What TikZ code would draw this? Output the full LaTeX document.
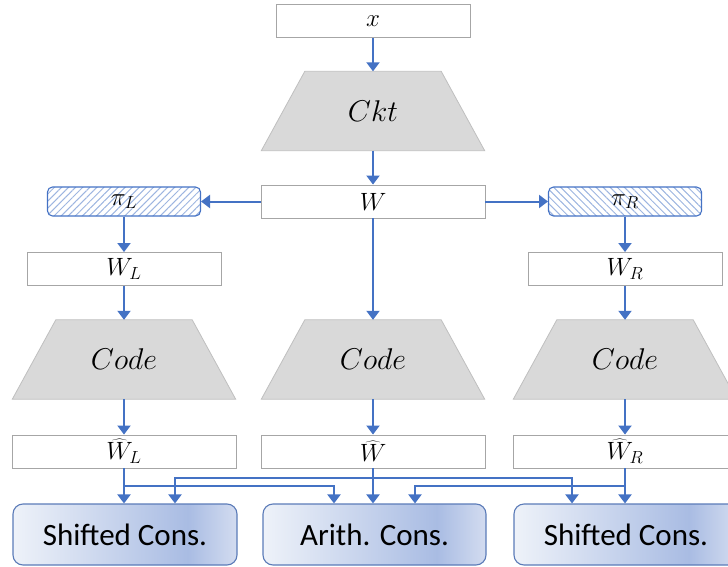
\RequirePackage{fix-cm}
\documentclass[tikz,border=0pt]{standalone}
\usepackage{fontspec}
\newfontfamily\calibri{Carlito}
\usetikzlibrary{arrows.meta,patterns.meta,backgrounds}
\definecolor{arrblue}{HTML}{4472C4}
\definecolor{boxgray}{HTML}{A6A6A6}
\definecolor{trapfill}{HTML}{D9D9D9}
\definecolor{trapline}{HTML}{BFBFBF}
\definecolor{hatch}{HTML}{9DB5E0}
\definecolor{consline}{HTML}{5B7BB8}
\definecolor{consA}{HTML}{EEF2F9}
\definecolor{consB}{HTML}{A9BCE3}
\definecolor{consC}{HTML}{D3DCF0}
\pgfdeclarehorizontalshading{consshade}{100bp}{color(0bp)=(consA); color(25bp)=(consA); color(64bp)=(consB); color(75bp)=(consC); color(100bp)=(consC)}
\tikzset{
  wbox/.style={draw=boxgray, line width=0.9pt, fill=white, minimum width=194pt, minimum height=33pt, inner sep=0pt, font=\fontsize{25}{28}\selectfont},
  widebox/.style={wbox, minimum width=224pt},
  pibox/.style={draw=arrblue, line width=1.1pt, rounded corners=5pt, minimum width=153pt, minimum height=29pt, inner sep=0pt, font=\fontsize{25}{28}\selectfont},
  traplabel/.style={minimum width=136pt, minimum height=79pt, inner sep=0pt, font=\fontsize{30}{34}\selectfont},
  trapshape/.style={fill=trapfill, draw=trapline, line width=0.8pt},
  consbox/.style={draw=consline, line width=1.1pt, rounded corners=10pt, shading=consshade, minimum width=224pt, minimum height=61pt, inner sep=0pt, font=\calibri\fontsize{31}{36}\selectfont},
  arr/.style={draw=arrblue, line width=2pt, -{Triangle[width=13pt,length=9pt]}}
}
\begin{document}
\begin{tikzpicture}[x=1pt,y=-1pt]
\useasboundingbox (0,0) rectangle (728,567);
\clip (0,0) rectangle (728,567);
% top chain
\node[wbox] (xb) at (373,21) {$x$};
\node[traplabel] (ckt) at (373,111) {$Ckt$};
\node[widebox] (w) at (373,201.5) {$W$};
\node[pibox, pattern={Lines[angle=45,distance=5pt,line width=1pt]}, pattern color=hatch] (piL) at (124,201.5) {$\pi_L$};
\node[pibox, pattern={Lines[angle=-45,distance=5pt,line width=1pt]}, pattern color=hatch] (piR) at (625,201.5) {$\pi_R$};
\node[wbox] (wl) at (124,269) {$W_L$};
\node[wbox] (wr) at (625,269) {$W_R$};
\node[traplabel] (codeL) at (124,359.5) {$Code$};
\node[traplabel] (codeM) at (373,359.5) {$Code$};
\node[traplabel] (codeR) at (625,359.5) {$Code$};
\node[widebox] (wlh) at (124,451.5) {$\widehat{W}_L$};
\node[widebox] (wh) at (373,451.5) {$\widehat{W}$};
\node[widebox] (wrh) at (625,451.5) {$\widehat{W}_R$};
\node[consbox] (shl) at (125,534.5) {Shifted Cons.};
\node[consbox, minimum width=223pt] (arith) at (374.5,534.5) {Arith. Cons.};
\node[consbox] (shr) at (626,534.5) {Shifted Cons.};
% trapezoids
\begin{scope}[on background layer]
\foreach \n in {ckt,codeL,codeM,codeR}{
  \path[trapshape] (\n.north west) -- (\n.north east) -- ([xshift=43.5pt]\n.south east) -- ([xshift=-43.5pt]\n.south west) -- cycle;
}
\end{scope}
% arrows
\draw[arr] (xb.south) -- (ckt.north);
\draw[arr] (ckt.south) -- (w.north);
\draw[arr] (w.west) -- (piL.east);
\draw[arr] (w.east) -- (piR.west);
\draw[arr] (w.south) -- (codeM.north);
\draw[arr] (piL.south) -- (wl.north);
\draw[arr] (piR.south) -- (wr.north);
\draw[arr] (wl.south) -- (codeL.north);
\draw[arr] (wr.south) -- (codeR.north);
\draw[arr] (codeL.south) -- (wlh.north);
\draw[arr] (codeM.south) -- (wh.north);
\draw[arr] (codeR.south) -- (wrh.north);
% bottom connectors
\coordinate (up) at (373,478);
\coordinate (lo) at (124,486);
\draw[arr] (wlh.south) -- (wlh.south |- shl.north);
\draw[arr] (wh.south) -- (wh.south |- arith.north);
\draw[arr] (wrh.south) -- (wrh.south |- shr.north);
\draw[arr] (wh.south |- up) -| ([xshift=50pt]shl.north);
\draw[arr] (wh.south |- up) -| ([xshift=-54pt]shr.north);
\draw[arr] (wlh.south |- lo) -| ([xshift=-40.5pt]arith.north);
\draw[arr] (wrh.south |- lo) -| ([xshift=40.5pt]arith.north);
\end{tikzpicture}
\end{document}
